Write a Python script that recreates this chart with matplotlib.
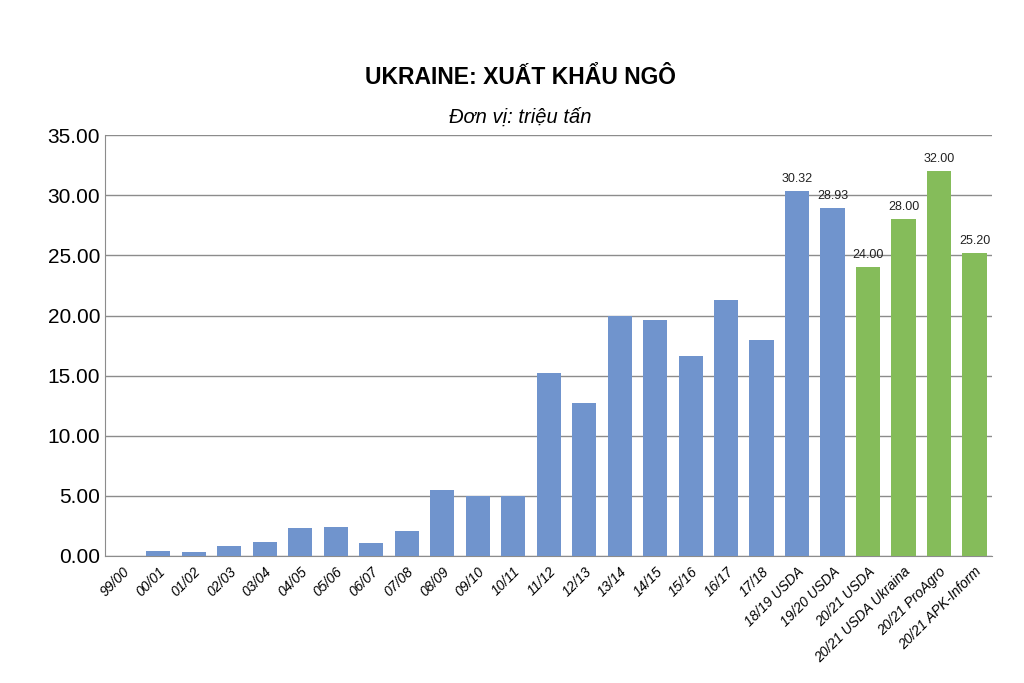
import matplotlib.pyplot as plt
import numpy as np

plt.rcParams['font.family'] = ['Liberation Sans', 'DejaVu Sans']

seasons = ["99/00", "00/01", "01/02", "02/03", "03/04", "04/05", "05/06", "06/07",
           "07/08", "08/09", "09/10", "10/11", "11/12", "12/13", "13/14", "14/15",
           "15/16", "16/17", "17/18", "18/19 USDA", "19/20 USDA", "20/21 USDA",
           "20/21 USDA Ukraina", "20/21 ProAgro", "20/21 APK-Inform"]
exports = [0.0, 0.4, 0.35, 0.85, 1.2, 2.3, 2.45, 1.05, 2.05, 5.5, 5.0, 5.0,
           15.2, 12.7, 20.0, 19.6, 16.6, 21.3, 18.0, 30.32, 28.93,
           24.0, 28.0, 32.0, 25.2]
forecast = [False] * 21 + [True] * 4
labelled = [False] * 19 + [True] * 6

blue = '#7094cd'
green = '#85bc5a'
colors = [green if f else blue for f in forecast]

fig = plt.figure(figsize=(10.24, 6.83), dpi=100)
ax = fig.add_axes([0.1025, 0.186, 0.8665, 0.616])

x = np.arange(len(seasons))
bars = ax.bar(x, exports, width=0.68, color=colors, zorder=3)

for b, v, lab in zip(bars, exports, labelled):
    if lab:
        ax.text(b.get_x() + b.get_width() / 2, v + 0.5, f"{v:.2f}",
                ha='center', va='bottom', fontsize=9, color='#222222')

ax.set_xlim(-0.5, len(seasons) - 0.5)
ax.set_ylim(0, 35)
ax.set_yticks(np.arange(0, 36, 5))
ax.set_yticklabels([f"{t:.2f}" for t in np.arange(0, 36, 5)], fontsize=15)
ax.set_xticks(x)
ax.set_xticklabels(seasons, rotation=45, ha='right', rotation_mode='anchor',
                   fontsize=10, style='italic')
ax.tick_params(axis='both', length=0)
ax.tick_params(axis='x', pad=6)
ax.grid(axis='y', color='#8c8c8c', linewidth=1, zorder=0)
for s in ['top', 'right']:
    ax.spines[s].set_visible(False)
ax.spines['left'].set_color('#8c8c8c')
ax.spines['bottom'].set_color('#8c8c8c')

fig.text(0.508, 0.877, "UKRAINE: XUẤT KHẨU NGÔ", ha='center', va='baseline',
         fontsize=16.5, fontweight='bold')
fig.text(0.508, 0.820, "Đơn vị: triệu tấn", ha='center', va='baseline',
         fontsize=14.5, style='italic')

fig.savefig('out.png', dpi=100)
